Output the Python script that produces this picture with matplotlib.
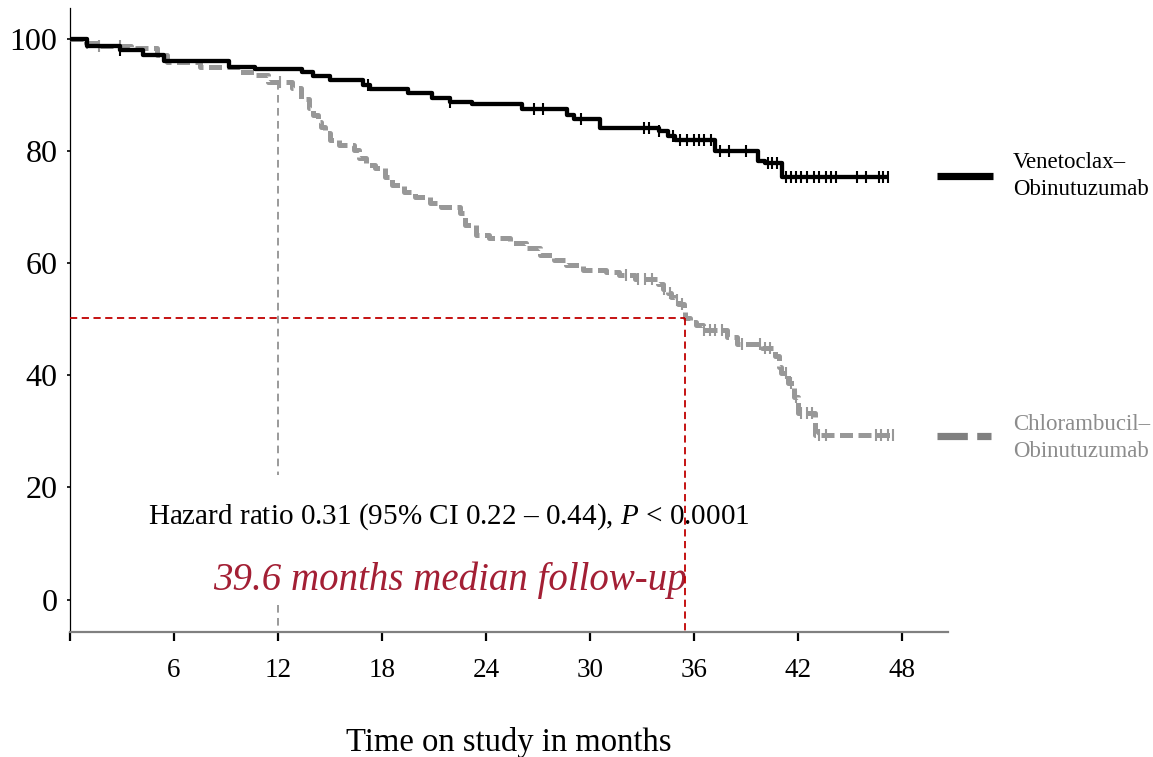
import numpy as np
import matplotlib
matplotlib.use("Agg")
import matplotlib.pyplot as plt
from matplotlib.lines import Line2D

plt.rcParams["font.family"] = ["Liberation Serif", "DejaVu Serif"]
plt.rcParams["mathtext.fontset"] = "custom"
plt.rcParams["mathtext.rm"] = "Liberation Serif"
plt.rcParams["mathtext.it"] = "Liberation Serif:italic"

# ---- Kaplan-Meier data (months, % event-free) ----
ven_times = [1.0, 2.9, 4.2, 5.4, 9.2, 10.7, 13.4, 14.0, 15.0, 16.9, 17.3, 19.5,
             20.9, 21.9, 23.2, 26.1, 28.7, 29.1, 30.6, 34.0, 34.5, 34.9, 37.2,
             39.7, 40.1, 41.1]
ven_surv = [98.8, 98.1, 97.2, 96.2, 95.1, 94.7, 94.1, 93.4, 92.7, 91.9, 91.1, 90.4,
            89.6, 88.9, 88.4, 87.6, 86.5, 85.8, 84.2, 83.7, 82.8, 82.1, 80.0,
            78.2, 77.9, 75.5]
ven_end = 47.2
ven_censor = [2.9, 17.2, 21.9, 26.8, 27.3, 29.5, 33.1, 33.4, 34.0, 34.8, 35.2,
              35.6, 36.0, 36.3, 36.6, 37.0, 37.5, 38.0, 39.0, 40.3, 40.5, 40.8,
              41.3, 41.6, 41.9, 42.2, 42.5, 42.9, 43.2, 43.6, 43.9, 44.2, 45.4,
              45.9, 46.7, 46.9, 47.2]

clb_times = [0.9, 1.6, 3.5, 5.0, 5.6, 7.5, 9.8, 10.7, 11.4, 12.8, 13.3, 13.8,
             14.0, 14.3, 14.5, 14.7, 15.0, 15.5, 16.4, 16.7, 17.1, 17.6, 18.2,
             18.6, 19.3, 19.9, 20.8, 21.4, 22.5, 22.8, 23.4, 24.2, 25.4, 26.3,
             27.1, 27.9, 28.6, 29.6, 30.9, 31.7, 32.6, 33.9, 34.2, 34.5, 34.7,
             34.9, 35.1, 35.4, 35.5, 35.8, 36.1, 36.5, 37.9, 38.5, 39.9, 40.7,
             40.9, 41.0, 41.4, 41.8, 42.0, 43.0]
clb_surv = [99.4, 98.9, 98.5, 97.2, 96.0, 95.0, 94.2, 93.6, 92.4, 91.3, 89.4, 87.7,
            86.5, 85.3, 84.4, 83.2, 82.0, 81.1, 80.2, 78.8, 77.5, 77.0, 75.5,
            74.0, 72.8, 71.9, 70.8, 70.1, 69.0, 66.8, 65.1, 64.5, 63.6, 62.7,
            61.5, 60.6, 59.7, 58.8, 58.5, 57.9, 57.2, 56.3, 55.5, 54.7, 54.0,
            53.5, 52.8, 51.6, 50.3, 49.6, 49.0, 48.1, 46.9, 45.6, 44.9, 43.4,
            41.5, 40.4, 38.6, 36.2, 33.3, 29.3]
clb_end = 47.6
clb_censor = [1.0, 1.7, 2.9, 12.1, 32.1, 32.8, 33.2, 33.6, 34.3, 34.6, 35.0,
              35.3, 36.6, 36.9, 37.2, 37.6, 38.8, 39.8, 40.1, 40.4, 41.3, 41.6,
              41.9, 42.2, 42.5, 42.8, 43.2, 43.6, 46.5, 46.8, 47.2, 47.5]

median_followup = 35.5
median_surv = 50.3
landmark_month = 12
landmark_surv = 92.4

x_ticks = [0, 6, 12, 18, 24, 30, 36, 42, 48]
x_ticklabels = ["", "6", "12", "18", "24", "30", "36", "42", "48"]
y_ticks = [0, 20, 40, 60, 80, 100]

VEN_COLOR = "black"
CLB_COLOR = "#989898"
RED = "#C00000"


def km_path(times, surv, end):
    t = np.concatenate([[0.0], times, [end]])
    s = np.concatenate([[100.0], surv, [surv[-1]]])
    return t, s


def surv_at(times, surv, when):
    times = np.asarray(times)
    s = np.concatenate([[100.0], surv])
    idx = np.searchsorted(times, np.asarray(when), side="right")
    return s[idx]


W, H = 1153, 757
fig = plt.figure(figsize=(W / 100, H / 100), dpi=100)
ax = fig.add_axes([70 / W, 1 - 632 / H, (948 - 70) / W, (632 - 8) / H])
ax.set_xlim(0, 50.66)
ax.set_ylim(-5.8, 105.6)

# Curves
t, s = km_path(ven_times, ven_surv, ven_end)
ax.plot(t, s, drawstyle="steps-post", color=VEN_COLOR, lw=3.1,
        solid_capstyle="butt", zorder=5)
ax.plot(ven_censor, surv_at(ven_times, ven_surv, ven_censor), ls="none",
        marker="|", ms=8, mew=1.5, color=VEN_COLOR, zorder=6)

t, s = km_path(clb_times, clb_surv, clb_end)
ax.plot(t, s, drawstyle="steps-post", color=CLB_COLOR, lw=3.6,
        dashes=(2.6, 1.1), dash_capstyle="butt", zorder=4)
ax.plot(clb_censor, surv_at(clb_times, clb_surv, clb_censor), ls="none",
        marker="|", ms=8, mew=1.5, color=CLB_COLOR, zorder=4)

# Reference lines
ax.plot([landmark_month, landmark_month], [landmark_surv, 22.3], color="#7f7f7f",
        lw=1.1, dashes=(5, 3.5), zorder=3)
ax.plot([landmark_month, landmark_month], [-0.9, -5.8], color="#7f7f7f",
        lw=1.1, dashes=(5, 3.5), zorder=3)
ax.plot([0, median_followup], [median_surv, median_surv], color=RED, lw=1.3,
        dashes=(4, 2.5), zorder=7)
ax.plot([median_followup, median_followup], [median_surv, -5.8], color=RED,
        lw=1.3, dashes=(4, 2.5), zorder=7)

# Annotations
ax.text(4.5, 14.7, "Hazard ratio 0.31 (95% CI 0.22 – 0.44), $P$ < 0.0001",
        fontsize=21, ha="left", va="center", color="black", zorder=6)
ax.text(8.25, 3.5, "39.6 months median follow-up", fontsize=28,
        style="italic", color="#A31F34", ha="left", va="center", zorder=6)

# Axes styling
for side in ("top", "right"):
    ax.spines[side].set_visible(False)
ax.spines["left"].set_color("black")
ax.spines["left"].set_linewidth(0.9)
ax.spines["bottom"].set_color("#808080")
ax.spines["bottom"].set_linewidth(1.6)

ax.set_xticks(x_ticks)
ax.set_xticklabels(x_ticklabels)
ax.set_yticks(y_ticks)
ax.tick_params(axis="x", length=6.5, width=1.6, color="black", pad=12,
               labelsize=19.5)
ax.tick_params(axis="y", length=2, width=1.2, color="black", pad=7,
               labelsize=23)
ax.set_xlabel("Time on study in months", fontsize=23.5, labelpad=32)

# Legend drawn beside the curves
fig.add_artist(Line2D([937 / W, 993 / W], [1 - 176 / H, 1 - 176 / H],
                      color="black", lw=5.2, solid_capstyle="butt"))
fig.add_artist(Line2D([937 / W, 991 / W], [1 - 436 / H, 1 - 436 / H],
                      color="#808080", lw=5.2, dashes=(4.2, 1.3),
                      dash_capstyle="butt"))
fig.text(1013 / W, 1 - 176 / H, "Venetoclax–\nObinutuzumab", fontsize=16.5,
         ha="left", va="center", color="black", linespacing=1.35)
fig.text(1013 / W, 1 - 438 / H, "Chlorambucil–\nObinutuzumab", fontsize=16.5,
         ha="left", va="center", color="#8c8c8c", linespacing=1.35)

fig.savefig("out.png", dpi=100)
